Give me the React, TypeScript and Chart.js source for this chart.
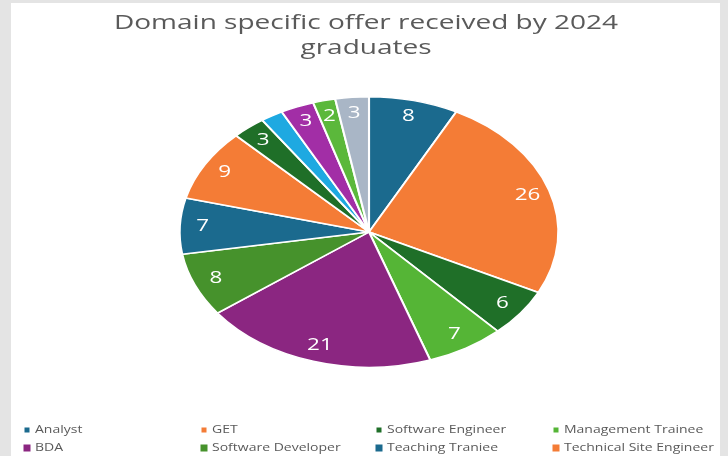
import { useEffect, useRef } from "react";
import { Chart, registerables } from "chart.js";

Chart.register(...registerables);

const TITLE_LINES = ["Domain specific offer received by 2024", "graduates"];

const categories = [
  "Analyst",
  "GET",
  "Software Engineer",
  "Management Trainee",
  "BDA",
  "Software Developer",
  "Teaching Traniee",
  "Technical Site Engineer",
  "Design Engineer",
  "Business Analyst",
  "Sales Engineer",
  "Process Associate",
  "Research Associate",
];

const offers = [8, 26, 6, 7, 21, 8, 7, 9, 3, 2, 3, 2, 3];

const sliceColors = [
  "#1b6a8e",
  "#f47c36",
  "#1f6f28",
  "#55b536",
  "#8b2681",
  "#46922c",
  "#1b6a8e",
  "#f47c36",
  "#1f6f28",
  "#1ea9e1",
  "#a22ea6",
  "#5bb83b",
  "#a9b6c6",
];

const showValueLabel = [true, true, true, true, true, true, true, true, true, false, true, true, true];

const LEGEND_COUNT = 8;
const STRETCH_X = 1.4;
const FONT = "'Open Sans', 'DejaVu Sans', sans-serif";

function stretchedText(ctx: CanvasRenderingContext2D, text: string, x: number, y: number) {
  ctx.save();
  ctx.translate(x, y);
  ctx.scale(STRETCH_X, 1);
  ctx.fillText(text, 0, 0);
  ctx.restore();
}

export default function App() {
  const canvasRef = useRef<HTMLCanvasElement | null>(null);

  useEffect(() => {
    document.body.style.margin = "0";
    const canvas = canvasRef.current;
    if (!canvas) return;

    const backgroundPlugin = {
      id: "cardBackground",
      beforeDraw(chart: any) {
        const ctx = chart.ctx;
        ctx.save();
        ctx.fillStyle = "#e4e4e4";
        ctx.fillRect(0, 0, chart.width, chart.height);
        ctx.fillStyle = "#ffffff";
        ctx.fillRect(11, 3, 709, chart.height - 3);
        ctx.restore();
      },
    };

    const stretchPlugin = {
      id: "stretchPie",
      beforeDatasetsDraw(chart: any) {
        const meta = chart.getDatasetMeta(0);
        const arc = meta.data[0];
        if (!arc) return;
        const ctx = chart.ctx;
        ctx.save();
        ctx.translate(arc.x, arc.y);
        ctx.scale(STRETCH_X, 1);
        ctx.translate(-arc.x, -arc.y);
      },
      afterDatasetsDraw(chart: any) {
        const ctx = chart.ctx;
        ctx.restore();
        const meta = chart.getDatasetMeta(0);
        ctx.save();
        ctx.fillStyle = "#ffffff";
        ctx.font = `16px ${FONT}`;
        ctx.textAlign = "center";
        ctx.textBaseline = "middle";
        meta.data.forEach((arc: any, i: number) => {
          if (!showValueLabel[i]) return;
          const p = arc.getProps(["x", "y", "startAngle", "endAngle", "outerRadius"], true);
          const mid = (p.startAngle + p.endAngle) / 2;
          const r = p.outerRadius * 0.88;
          const x = p.x + Math.cos(mid) * r * STRETCH_X;
          const y = p.y + Math.sin(mid) * r;
          stretchedText(ctx, String(chart.data.datasets[0].data[i]), x, y);
        });
        ctx.restore();
      },
    };

    const textPlugin = {
      id: "titleLegend",
      afterDraw(chart: any) {
        const ctx = chart.ctx;
        ctx.save();
        ctx.fillStyle = "#5a5a5a";
        ctx.textAlign = "center";
        ctx.textBaseline = "middle";
        ctx.font = `20px ${FONT}`;
        stretchedText(ctx, TITLE_LINES[0], 366, 23);
        stretchedText(ctx, TITLE_LINES[1], 366, 48);

        const colX = [27, 204, 379, 556];
        const rowY = [430, 448];
        ctx.font = `10px ${FONT}`;
        ctx.textAlign = "left";
        for (let i = 0; i < LEGEND_COUNT; i++) {
          const col = i % 4;
          const row = Math.floor(i / 4);
          const x = colX[col];
          const y = rowY[row];
          const s = row === 0 ? 5 : 7;
          ctx.fillStyle = sliceColors[i];
          ctx.fillRect(x - s / 2, y - s / 2, s, s);
          ctx.fillStyle = "#5a5a5a";
          stretchedText(ctx, categories[i], x + 8, y);
        }
        ctx.restore();
      },
    };

    const chart = new Chart(canvas, {
      type: "pie",
      data: {
        labels: categories,
        datasets: [
          {
            data: offers,
            backgroundColor: sliceColors,
            borderColor: "#ffffff",
            borderWidth: 1.5,
          },
        ],
      },
      options: {
        responsive: false,
        animation: false,
        layout: { padding: { top: 96, bottom: 88, left: 10, right: 0 } },
        plugins: {
          legend: { display: false },
          title: { display: false },
          tooltip: { enabled: false },
        },
      },
      plugins: [backgroundPlugin, stretchPlugin, textPlugin],
    });

    return () => chart.destroy();
  }, []);

  return (
    <div style={{ position: "absolute", left: 0, top: 0, width: 728, height: 456 }}>
      <canvas ref={canvasRef} width={728} height={456} />
    </div>
  );
}
